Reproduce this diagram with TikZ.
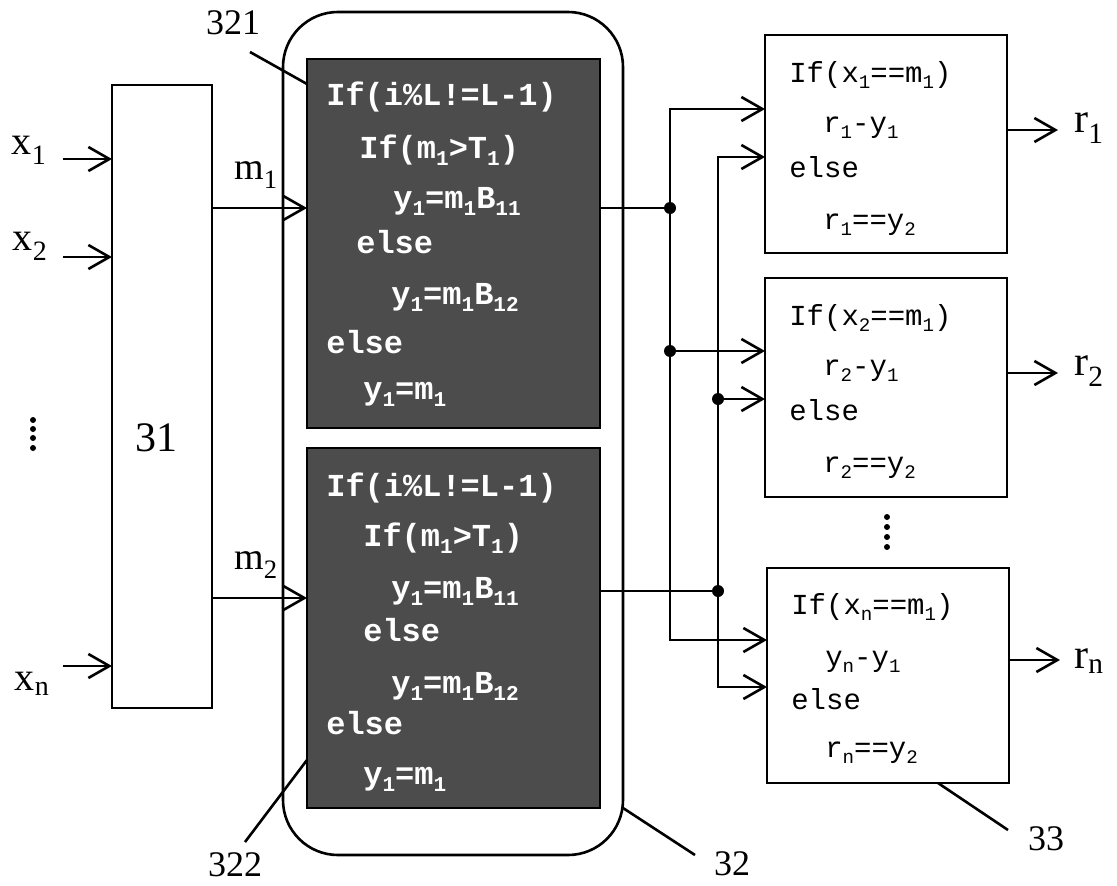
\documentclass[tikz,border=0pt]{standalone}
\usepackage{fontspec}
\setmainfont{Liberation Serif}
\newfontfamily\monof{Liberation Mono}
\usetikzlibrary{arrows.meta}
\newcommand\sbs[1]{\raisebox{-0.22em}{\scalebox{0.66}{#1}}}
\begin{document}
\begin{tikzpicture}[x=1bp,y=-1bp,line width=2.6bp,
  arr/.style={-{Straight Barb[length=21bp,width=24bp,line width=2.6bp]}},
  box/.style={draw,inner sep=0pt,outer sep=0pt},
  dark/.style={draw,fill=black!70,inner sep=0pt,outer sep=0pt},
  dtext/.style={anchor=base west,inner sep=0pt,text=white,font=\monof\bfseries\fontsize{32bp}{32bp}\selectfont},
  btext/.style={anchor=base west,inner sep=0pt,font=\monof\fontsize{29bp}{29bp}\selectfont},
  lbl/.style={inner sep=0pt,font=\fontsize{36bp}{36bp}\selectfont},
  io/.style={inner sep=0pt,font=\fontsize{40bp}{40bp}\selectfont},
  dot/.style={circle,fill,inner sep=0pt,minimum size=12bp},
  sdot/.style={circle,fill,inner sep=0pt,minimum size=6bp}]
\useasboundingbox (0,0) rectangle (1117,886);

% main blocks
\node[box,minimum width=100bp,minimum height=623bp] (b31) at (162,396.5) {};
\node[io,font=\fontsize{42bp}{42bp}\selectfont] (t31) at (156,438) {31};
\node[box,rounded corners=55bp,minimum width=340bp,minimum height=843bp] (b32) at (453,433.5) {};
\node[dark,minimum width=293bp,minimum height=369bp] (d1) at (453.5,243.5) {};
\node[dark,minimum width=293bp,minimum height=360bp] (d2) at (453.5,628) {};
\node[box,minimum width=242bp,minimum height=218bp] (b1) at (886,144) {};
\node[box,minimum width=242bp,minimum height=219bp] (b2) at (886,387.5) {};
\node[box,minimum width=242bp,minimum height=215bp] (bn) at (888,675.5) {};

% dark box texts
\node[dtext] (d1a) at (325,105) {If(i\%L!=L-1)};
\node[dtext] (d1b) at (358,158) {If(m\sbs{1}>T\sbs{1})};
\node[dtext] (d1c) at (392,208) {y\sbs{1}=m\sbs{1}B\sbs{11}};
\node[dtext] (d1d) at (355,253) {else};
\node[dtext] (d1e) at (390,304) {y\sbs{1}=m\sbs{1}B\sbs{12}};
\node[dtext] (d1f) at (325,353) {else};
\node[dtext] (d1g) at (362,399) {y\sbs{1}=m\sbs{1}};
\node[dtext] (d2a) at (325,496) {If(i\%L!=L-1)};
\node[dtext] (d2b) at (362,546) {If(m\sbs{1}>T\sbs{1})};
\node[dtext] (d2c) at (390,598) {y\sbs{1}=m\sbs{1}B\sbs{11}};
\node[dtext] (d2d) at (362,641) {else};
\node[dtext] (d2e) at (390,693) {y\sbs{1}=m\sbs{1}B\sbs{12}};
\node[dtext] (d2f) at (325,734) {else};
\node[dtext] (d2g) at (362,784) {y\sbs{1}=m\sbs{1}};

% right box texts
\node[btext] (b1a) at (788,82) {If(x\sbs{1}==m\sbs{1})};
\node[btext] (b1b) at (822,132) {r\sbs{1}-y\sbs{1}};
\node[btext] (b1c) at (788,177) {else};
\node[btext] (b1d) at (822,229) {r\sbs{1}==y\sbs{2}};
\node[btext] (b2a) at (788,325) {If(x\sbs{2}==m\sbs{1})};
\node[btext] (b2b) at (822,375) {r\sbs{2}-y\sbs{1}};
\node[btext] (b2c) at (788,420) {else};
\node[btext] (b2d) at (822,472) {r\sbs{2}==y\sbs{2}};
\node[btext] (bna) at (790,614) {If(x\sbs{n}==m\sbs{1})};
\node[btext] (bnb) at (824,666) {y\sbs{n}-y\sbs{1}};
\node[btext] (bnc) at (790,709) {else};
\node[btext] (bnd) at (824,757) {r\sbs{n}==y\sbs{2}};

% inputs
\node[io] (lx1) at (29,150) {x\textsubscript{1}};
\node[io] (lx2) at (30,246) {x\textsubscript{2}};
\node[io] (lxn) at (32,684) {x\textsubscript{n}};
\coordinate (x1s) at (63,159);
\coordinate (x2s) at (63,257);
\coordinate (xns) at (63,666);
\draw[arr] (x1s) -- (x1s -| b31.west);
\draw[arr] (x2s) -- (x2s -| b31.west);
\draw[arr] (xns) -- (xns -| b31.west);
\node[sdot] (v1) at (33,420) {};
\node[sdot] (v2) at (33,429) {};
\node[sdot] (v3) at (33,438) {};
\node[sdot] (v4) at (33,448) {};

% m1, m2
\node[io,font=\fontsize{38bp}{38bp}\selectfont] (lm1) at (256,175) {m\textsubscript{1}};
\node[io,font=\fontsize{38bp}{38bp}\selectfont] (lm2) at (256,565) {m\textsubscript{2}};
\coordinate (m1y) at (0,208);
\coordinate (m2y) at (0,598);
\draw[arr] (b31.east |- m1y) -- (d1.west |- m1y);
\draw[arr] (b31.east |- m2y) -- (d2.west |- m2y);

% distribution network
\node[dot] (j1) at (670,208) {};
\node[dot] (j2) at (670,351) {};
\node[dot] (j3) at (718,591) {};
\node[dot] (j4) at (718,399) {};
\coordinate (a1) at (670,109);
\coordinate (a2) at (670,640);
\coordinate (c1) at (718,157);
\coordinate (c2) at (718,687);
\draw (d1.east |- j1) -- (j1.center);
\draw[arr] (j1.center) -- (a1) -- (a1 -| b1.west);
\draw[arr] (j1.center) -- (a2) -- (a2 -| bn.west);
\draw[arr] (j2.center) -- (j2 -| b2.west);
\draw (d2.east |- j3) -- (j3.center);
\draw[arr] (j3.center) -- (c1) -- (c1 -| b1.west);
\draw[arr] (j3.center) -- (c2) -- (c2 -| bn.west);
\draw[arr] (j4.center) -- (j4 -| b2.west);

% outputs
\node[io,font=\fontsize{42bp}{42bp}\selectfont] (lr1) at (1089,128) {r\textsubscript{1}};
\node[io,font=\fontsize{42bp}{42bp}\selectfont] (lr2) at (1089,371) {r\textsubscript{2}};
\node[io,font=\fontsize{42bp}{42bp}\selectfont] (lrn) at (1089,661) {r\textsubscript{n}};
\coordinate (r1e) at (1058,130);
\coordinate (r2e) at (1058,373);
\coordinate (rne) at (1060,660);
\draw[arr] (b1.east |- r1e) -- (r1e);
\draw[arr] (b2.east |- r2e) -- (r2e);
\draw[arr] (bn.east |- rne) -- (rne);
\node[sdot] (w1) at (887,517) {};
\node[sdot] (w2) at (887,527) {};
\node[sdot] (w3) at (887,537) {};
\node[sdot] (w4) at (887,547) {};

% reference labels
\node[lbl] (l321) at (233,23) {321};
\node[lbl] (l322) at (235,865) {322};
\node[lbl] (l32) at (732,864) {32};
\node[lbl] (l33) at (1046,839) {33};
\coordinate (p321) at (250,52);
\coordinate (q321) at (0,84);
\coordinate (p322) at (245,842);
\coordinate (q322) at (0,760);
\coordinate (p32) at (695,855);
\coordinate (q32) at (0,808);
\coordinate (p33) at (1008,830);
\coordinate (q33) at (938,0);
\draw (p321) -- (d1.west |- q321);
\draw (p322) -- (d2.west |- q322);
\draw (p32) -- (b32.east |- q32);
\draw (p33) -- (q33 |- bn.south);
\end{tikzpicture}
\end{document}
